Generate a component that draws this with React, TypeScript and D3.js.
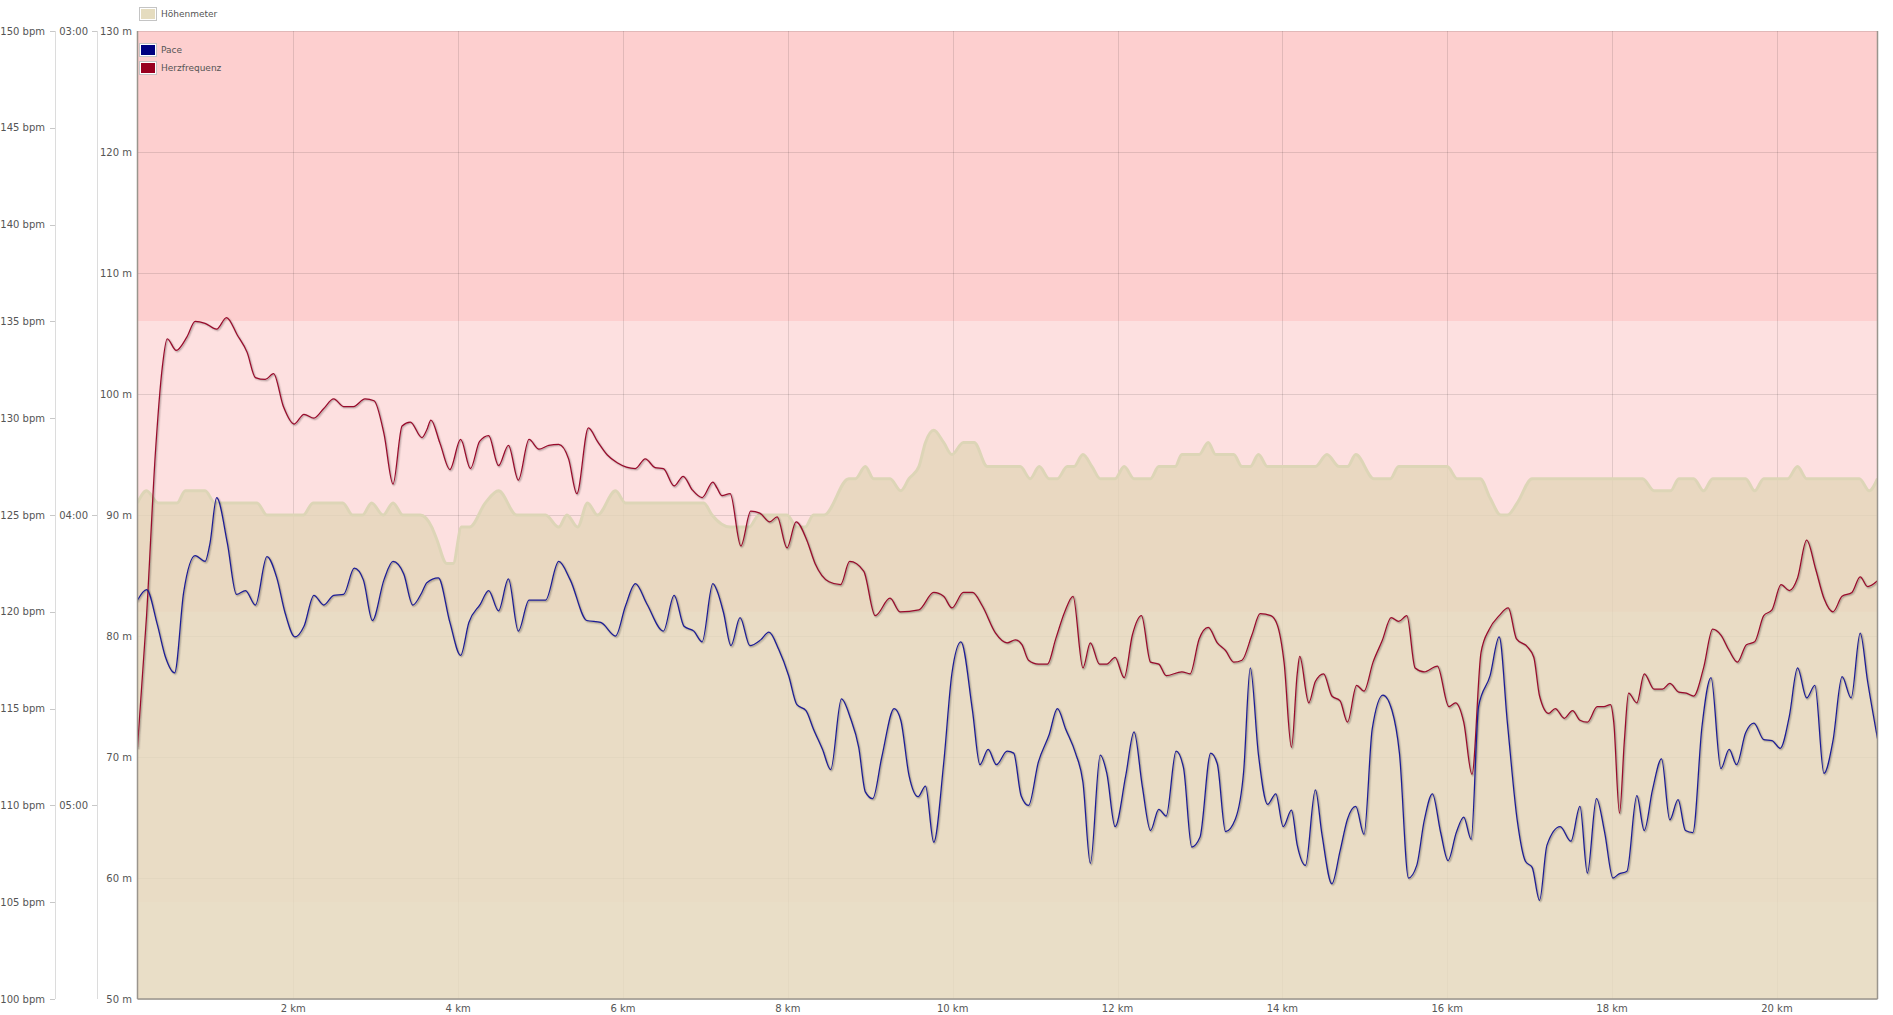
import React from 'react';
import * as d3 from 'd3';

// ---------- data ----------
const kmTicks = [2, 4, 6, 8, 10, 12, 14, 16, 18, 20];
const bpmTicks = [100, 105, 110, 115, 120, 125, 130, 135, 140, 145, 150];
const meterTicks = [50, 60, 70, 80, 90, 100, 110, 120, 130];
const paceTickMinutes = [3, 4, 5];
const paceTickLabels = ['03:00', '04:00', '05:00'];
const hrZoneLimits = [105, 120, 135, 150];
const legendNames = ['Höhenmeter', 'Pace', 'Herzfrequenz'];

// elevation [km, m]
const elevation: [number, number][] = [
  [0.11, 91], [0.22, 92], [0.36, 91], [0.59, 91], [0.69, 92], [0.93, 92], [1.05, 91], [1.56, 91],
  [1.68, 90], [2.12, 90], [2.24, 91], [2.6, 91], [2.72, 90], [2.84, 90], [2.95, 91], [3.09, 90],
  [3.21, 91], [3.33, 90], [3.54, 90], [3.68, 89], [3.74, 88], [3.86, 86], [3.94, 86], [4.04, 89],
  [4.14, 89], [4.33, 91], [4.49, 92], [4.71, 90], [5.06, 90], [5.22, 89], [5.32, 90], [5.45, 89],
  [5.57, 91], [5.69, 90], [5.91, 92], [6.03, 91], [6.98, 91], [7.08, 90], [7.3, 89], [7.53, 89],
  [7.65, 90], [7.99, 90], [8.11, 89], [8.21, 89], [8.31, 90], [8.44, 90], [8.74, 93], [8.82, 93],
  [8.94, 94], [9.04, 93], [9.24, 93], [9.37, 92], [9.47, 93], [9.59, 94], [9.67, 96], [9.77, 97],
  [9.89, 96], [9.99, 95], [10.13, 96], [10.26, 96], [10.42, 94], [10.82, 94], [10.94, 93], [11.05, 94],
  [11.17, 93], [11.27, 93], [11.39, 94], [11.47, 94], [11.58, 95], [11.69, 94], [11.79, 93], [11.97, 93],
  [12.08, 94], [12.2, 93], [12.4, 93], [12.5, 94], [12.7, 94], [12.78, 95], [12.99, 95], [13.1, 96],
  [13.19, 95], [13.41, 95], [13.51, 94], [13.61, 94], [13.71, 95], [13.82, 94], [14.4, 94], [14.54, 95],
  [14.69, 94], [14.79, 94], [14.89, 95], [15.11, 93], [15.31, 93], [15.41, 94], [16.0, 94], [16.12, 93],
  [16.4, 93], [16.52, 91.4], [16.65, 90], [16.73, 90], [16.85, 91], [17.03, 93], [18.37, 93], [18.51, 92],
  [18.71, 92], [18.81, 93], [18.99, 93], [19.11, 92], [19.22, 93], [19.62, 93], [19.73, 92], [19.84, 93],
  [20.13, 93], [20.25, 94], [20.36, 93], [21.0, 93], [21.12, 92], [21.22, 93],
];

// heart rate [km, bpm]
const heartRate: [number, number][] = [
  [0.11, 113.0], [0.22, 119.8], [0.33, 128.4], [0.41, 132.6], [0.47, 134.1], [0.58, 133.5], [0.71, 134.2],
  [0.81, 135.0], [0.93, 134.9], [1.07, 134.6], [1.19, 135.2], [1.32, 134.3], [1.44, 133.4], [1.54, 132.1],
  [1.66, 132.0], [1.76, 132.3], [1.88, 130.6], [2.01, 129.7], [2.13, 130.2], [2.25, 130.0], [2.37, 130.5],
  [2.49, 131.0], [2.61, 130.6], [2.73, 130.6], [2.87, 131.0], [2.98, 130.9], [3.1, 129.2], [3.21, 126.6],
  [3.32, 129.6], [3.42, 129.8], [3.56, 129.0], [3.62, 129.4], [3.67, 129.9], [3.78, 128.7], [3.9, 127.35],
  [4.03, 128.9], [4.15, 127.4], [4.26, 128.8], [4.37, 129.1], [4.49, 127.55], [4.61, 128.6], [4.73, 126.8],
  [4.86, 128.9], [4.98, 128.4], [5.1, 128.6], [5.22, 128.65], [5.34, 127.9], [5.44, 126.1], [5.58, 129.5],
  [5.69, 128.8], [5.81, 128.1], [5.93, 127.7], [6.15, 127.4], [6.27, 127.9], [6.39, 127.45], [6.49, 127.4],
  [6.62, 126.5], [6.73, 127.0], [6.84, 126.3], [6.96, 125.9], [7.09, 126.7], [7.14, 126.4], [7.2, 126.0],
  [7.3, 126.1], [7.43, 123.4], [7.55, 125.2], [7.66, 125.1], [7.78, 124.65], [7.87, 124.9], [7.99, 123.3],
  [8.1, 124.65], [8.23, 123.7], [8.33, 122.5], [8.5, 121.55], [8.64, 121.4], [8.75, 122.6], [8.92, 122.1],
  [9.06, 119.8], [9.24, 120.7], [9.36, 120.0], [9.59, 120.1], [9.77, 121.0], [9.89, 120.8], [9.99, 120.2],
  [10.13, 121.0], [10.24, 121.0], [10.36, 120.3], [10.52, 118.9], [10.66, 118.4], [10.76, 118.55], [10.84, 118.3],
  [10.92, 117.5], [11.04, 117.3], [11.15, 117.3], [11.25, 118.6], [11.36, 120.0], [11.46, 120.8], [11.58, 117.1],
  [11.67, 118.4], [11.78, 117.3], [11.87, 117.3], [11.97, 117.65], [12.08, 116.6], [12.18, 118.8], [12.29, 119.8],
  [12.4, 117.4], [12.5, 117.3], [12.59, 116.7], [12.78, 116.9], [12.88, 116.8], [12.99, 118.6], [13.1, 119.2],
  [13.21, 118.4], [13.31, 118.0], [13.41, 117.4], [13.51, 117.5], [13.63, 118.8], [13.73, 119.9], [13.86, 119.8],
  [13.94, 119.3], [14.02, 117.4], [14.11, 113.0], [14.18, 116.8], [14.21, 117.7], [14.32, 115.3], [14.4, 116.4],
  [14.5, 116.8], [14.6, 115.65], [14.7, 115.4], [14.79, 114.3], [14.9, 116.2], [14.99, 115.9], [15.1, 117.4],
  [15.21, 118.5], [15.32, 119.7], [15.41, 119.5], [15.51, 119.8], [15.61, 117.1], [15.72, 116.9], [15.88, 117.2],
  [16.02, 115.1], [16.1, 115.3], [16.2, 114.3], [16.3, 111.6], [16.41, 117.9], [16.51, 119.1], [16.63, 119.8],
  [16.74, 120.2], [16.84, 118.6], [16.97, 118.2], [17.05, 117.65], [17.12, 115.65], [17.23, 114.75], [17.31, 115.0],
  [17.42, 114.5], [17.52, 114.9], [17.61, 114.4], [17.7, 114.3], [17.82, 115.1], [17.9, 115.1], [17.98, 115.2],
  [18.02, 114.3], [18.09, 109.6], [18.15, 113.4], [18.2, 115.8], [18.3, 115.3], [18.39, 116.8], [18.51, 116.0],
  [18.61, 116.0], [18.7, 116.3], [18.81, 115.85], [18.9, 115.8], [18.99, 115.65], [19.11, 117.1], [19.22, 119.1],
  [19.32, 118.8], [19.42, 118.0], [19.52, 117.4], [19.63, 118.3], [19.73, 118.45], [19.84, 119.8], [19.94, 120.1],
  [20.05, 121.4], [20.15, 121.1], [20.25, 121.75], [20.36, 123.7], [20.47, 122.2], [20.57, 120.7], [20.68, 120.0],
  [20.79, 120.8], [20.91, 121.0], [21.01, 121.8], [21.1, 121.3], [21.22, 121.6],
];

// pace expressed as speed [km, km/h] (axis labelled in min/km)
const paceSpeed: [number, number][] = [
  [0.11, 14.12], [0.22, 14.23], [0.35, 13.87], [0.45, 13.53], [0.56, 13.37], [0.67, 14.2], [0.81, 14.58],
  [0.93, 14.52], [0.99, 14.71], [1.07, 15.18], [1.2, 14.71], [1.31, 14.18], [1.42, 14.22], [1.54, 14.07],
  [1.68, 14.57], [1.8, 14.35], [1.9, 13.99], [2.02, 13.74], [2.13, 13.85], [2.25, 14.17], [2.37, 14.07],
  [2.49, 14.17], [2.61, 14.18], [2.74, 14.45], [2.85, 14.33], [2.96, 13.91], [3.1, 14.33], [3.21, 14.52],
  [3.34, 14.39], [3.45, 14.07], [3.56, 14.2], [3.62, 14.3], [3.76, 14.35], [3.9, 13.89], [4.03, 13.55],
  [4.13, 13.89], [4.27, 14.08], [4.37, 14.22], [4.49, 14.01], [4.61, 14.34], [4.73, 13.8], [4.86, 14.12],
  [5.06, 14.12], [5.22, 14.52], [5.36, 14.33], [5.56, 13.91], [5.73, 13.89], [5.91, 13.75], [6.03, 14.06],
  [6.15, 14.29], [6.29, 14.08], [6.49, 13.8], [6.62, 14.17], [6.74, 13.85], [6.86, 13.8], [6.96, 13.69],
  [7.09, 14.29], [7.14, 14.22], [7.22, 13.99], [7.31, 13.65], [7.42, 13.94], [7.54, 13.65], [7.67, 13.71],
  [7.77, 13.79], [7.89, 13.61], [8.01, 13.34], [8.11, 13.04], [8.22, 12.98], [8.31, 12.79], [8.42, 12.58],
  [8.52, 12.37], [8.65, 13.1], [8.76, 12.9], [8.86, 12.6], [8.94, 12.14], [9.03, 12.07], [9.14, 12.5],
  [9.29, 13.0], [9.37, 12.88], [9.47, 12.31], [9.58, 12.09], [9.67, 12.2], [9.77, 11.62], [9.89, 12.43],
  [9.99, 13.36], [10.1, 13.69], [10.24, 12.98], [10.33, 12.42], [10.43, 12.58], [10.53, 12.42], [10.66, 12.56],
  [10.74, 12.54], [10.83, 12.1], [10.92, 12.0], [11.04, 12.45], [11.17, 12.73], [11.27, 13.0], [11.37, 12.79],
  [11.49, 12.54], [11.58, 12.24], [11.67, 11.4], [11.79, 12.52], [11.87, 12.33], [11.97, 11.78], [12.1, 12.31],
  [12.2, 12.76], [12.3, 12.2], [12.4, 11.74], [12.5, 11.96], [12.59, 11.89], [12.71, 12.56], [12.8, 12.39],
  [12.9, 11.57], [13.0, 11.67], [13.13, 12.54], [13.21, 12.43], [13.31, 11.73], [13.43, 11.86], [13.53, 12.35],
  [13.61, 13.42], [13.71, 12.52], [13.82, 12.01], [13.92, 12.12], [14.01, 11.78], [14.11, 11.95], [14.18, 11.59],
  [14.28, 11.38], [14.4, 12.16], [14.48, 11.7], [14.6, 11.19], [14.7, 11.53], [14.79, 11.86], [14.89, 11.99],
  [14.99, 11.7], [15.09, 12.79], [15.22, 13.14], [15.33, 12.98], [15.42, 12.54], [15.53, 11.25], [15.63, 11.38],
  [15.72, 11.84], [15.82, 12.12], [15.92, 11.72], [16.01, 11.43], [16.11, 11.72], [16.2, 11.88], [16.29, 11.65],
  [16.38, 13.02], [16.52, 13.34], [16.63, 13.74], [16.73, 12.85], [16.85, 11.84], [16.95, 11.42], [17.03, 11.36],
  [17.12, 11.02], [17.21, 11.59], [17.37, 11.78], [17.5, 11.63], [17.61, 11.99], [17.7, 11.3], [17.81, 12.07],
  [17.91, 11.72], [18.01, 11.25], [18.08, 11.29], [18.18, 11.32], [18.3, 12.1], [18.39, 11.74], [18.49, 12.16],
  [18.6, 12.48], [18.7, 11.85], [18.8, 12.06], [18.89, 11.74], [18.98, 11.72], [19.09, 12.81], [19.2, 13.32],
  [19.32, 12.38], [19.42, 12.58], [19.51, 12.42], [19.62, 12.75], [19.72, 12.85], [19.84, 12.68], [19.94, 12.67],
  [20.04, 12.59], [20.15, 12.92], [20.25, 13.42], [20.36, 13.11], [20.46, 13.24], [20.57, 12.33], [20.68, 12.67],
  [20.79, 13.33], [20.9, 13.11], [21.01, 13.78], [21.1, 13.28], [21.22, 12.69],
];

// ---------- layout / style ----------
const W = 1893;
const H = 1015;
const L = 137.5;
const R = 1877.5;
const T = 31;
const B = 999;
const FONT = '"DejaVu Sans", Verdana, sans-serif';
const zoneColors = ['#fef6f4', '#fde0e0', '#fdcfcf'];
const elevColor = '#e3d6b9';
const elevLine = '#ddd5b7';
const hrColor = '#990b2c';
const paceColor = '#1c1c96';
const legendColors = ['#e5dcbf', '#000080', '#990020'];

export default function App() {
  const x = d3.scaleLinear().domain([0.11, 21.22]).range([L, R]);
  const yBpm = d3.scaleLinear().domain([100, 150]).range([B, T]);
  const ySpeed = d3.scaleLinear().domain([10, 20]).range([B, T]);
  const yM = d3.scaleLinear().domain([50, 130]).range([B, T]);

  const area = d3
    .area<[number, number]>()
    .x((d) => x(d[0]))
    .y0(B)
    .y1((d) => yM(d[1]))
    .curve(d3.curveMonotoneX);
  const elevEdge = d3
    .line<[number, number]>()
    .x((d) => x(d[0]))
    .y((d) => yM(d[1]))
    .curve(d3.curveMonotoneX);
  const hrLine = d3
    .line<[number, number]>()
    .x((d) => x(d[0]))
    .y((d) => yBpm(d[1]))
    .curve(d3.curveMonotoneX);
  const paceLine = d3
    .line<[number, number]>()
    .x((d) => x(d[0]))
    .y((d) => ySpeed(d[1]))
    .curve(d3.curveMonotoneX);

  const hrPath = hrLine(heartRate) || '';
  const pacePath = paceLine(paceSpeed) || '';

  const shadow = (d: string, key: string) => (
    <g key={key} transform="translate(1,1)" fill="none" stroke="#000" strokeLinejoin="round" strokeLinecap="round">
      <path d={d} strokeOpacity={0.04} strokeWidth={4} />
      <path d={d} strokeOpacity={0.08} strokeWidth={2.5} />
      <path d={d} strokeOpacity={0.12} strokeWidth={1} />
    </g>
  );

  const legendY = [7.5, 43.5, 61.5];

  return (
    <svg
      width={W}
      height={H}
      style={{ position: 'absolute', left: 0, top: 0, display: 'block', background: '#fff' }}
      fontFamily={FONT}
    >
      <defs>
        <clipPath id="plot">
          <rect x={L} y={T} width={R - L} height={B - T} />
        </clipPath>
      </defs>

      {/* HR zone bands */}
      {hrZoneLimits.slice(0, -1).map((lo, i) => (
        <rect
          key={'z' + i}
          x={L}
          width={R - L}
          y={yBpm(hrZoneLimits[i + 1])}
          height={yBpm(lo) - yBpm(hrZoneLimits[i + 1])}
          fill={zoneColors[i]}
        />
      ))}

      {/* grid */}
      {meterTicks.map((m) => (
        <line key={'gm' + m} x1={L} x2={R} y1={Math.round(yM(m)) + 0.5} y2={Math.round(yM(m)) + 0.5} stroke="#000" strokeOpacity={0.11} />
      ))}
      {kmTicks.map((k) => (
        <line key={'gk' + k} y1={T} y2={B} x1={Math.round(x(k)) + 0.5} x2={Math.round(x(k)) + 0.5} stroke="#000" strokeOpacity={0.11} />
      ))}

      <g clipPath="url(#plot)">
        {/* elevation */}
        <path d={area(elevation) || ''} fill={elevColor} fillOpacity={0.8} />
        <path d={elevEdge(elevation) || ''} fill="none" stroke={elevLine} strokeWidth={3} strokeLinejoin="round" />

        {/* heart rate */}
        {shadow(hrPath, 'hs')}
        <path d={hrPath} fill="none" stroke={hrColor} strokeWidth={1.25} strokeLinejoin="round" />

        {/* pace */}
        {shadow(pacePath, 'ps')}
        <path d={pacePath} fill="none" stroke={paceColor} strokeWidth={1.25} strokeLinejoin="round" />
      </g>

      {/* plot borders */}
      <line x1={L} x2={L} y1={T} y2={B} stroke="#9a958d" strokeWidth={1.5} />
      <line x1={R} x2={R} y1={T} y2={B} stroke="#9a958d" strokeWidth={1.5} />
      <line x1={L} x2={R} y1={B} y2={B} stroke="#9a958d" strokeWidth={1.5} />

      {/* bpm axis */}
      <line x1={55.5} x2={55.5} y1={T} y2={B} stroke="#dcdcdc" />
      {bpmTicks.map((b) => (
        <g key={'b' + b}>
          <line x1={50} x2={55} y1={Math.round(yBpm(b)) + 0.5} y2={Math.round(yBpm(b)) + 0.5} stroke="#c8c8c8" />
          <text x={45} y={yBpm(b)} dy="0.35em" textAnchor="end" fontSize={10} fill="#555">
            {b} bpm
          </text>
        </g>
      ))}

      {/* pace axis */}
      <line x1={97.5} x2={97.5} y1={T} y2={B} stroke="#dcdcdc" />
      {paceTickMinutes.map((m, i) => (
        <g key={'p' + m}>
          <line x1={92} x2={97} y1={Math.round(ySpeed(60 / m)) + 0.5} y2={Math.round(ySpeed(60 / m)) + 0.5} stroke="#c8c8c8" />
          <text x={88} y={ySpeed(60 / m)} dy="0.35em" textAnchor="end" fontSize={10} fill="#555">
            {paceTickLabels[i]}
          </text>
        </g>
      ))}

      {/* meter axis */}
      {meterTicks.map((m) => (
        <text key={'m' + m} x={132} y={yM(m)} dy="0.35em" textAnchor="end" fontSize={10} fill="#555">
          {m} m
        </text>
      ))}

      {/* km axis */}
      {kmTicks.map((k) => (
        <text key={'k' + k} x={x(k)} y={1012} textAnchor="middle" fontSize={10} fill="#555">
          {k} km
        </text>
      ))}

      {/* legend */}
      {legendNames.map((n, i) => (
        <g key={'lg' + n}>
          <rect x={139.5} y={legendY[i]} width={17} height={13} fill="#fff" stroke="#c4c4c4" />
          <rect x={141} y={legendY[i] + 1.5} width={14} height={10} fill={legendColors[i]} />
          <text x={161} y={legendY[i] + 6.5} dy="0.35em" fontSize={9} fill="#555">
            {n}
          </text>
        </g>
      ))}
    </svg>
  );
}
